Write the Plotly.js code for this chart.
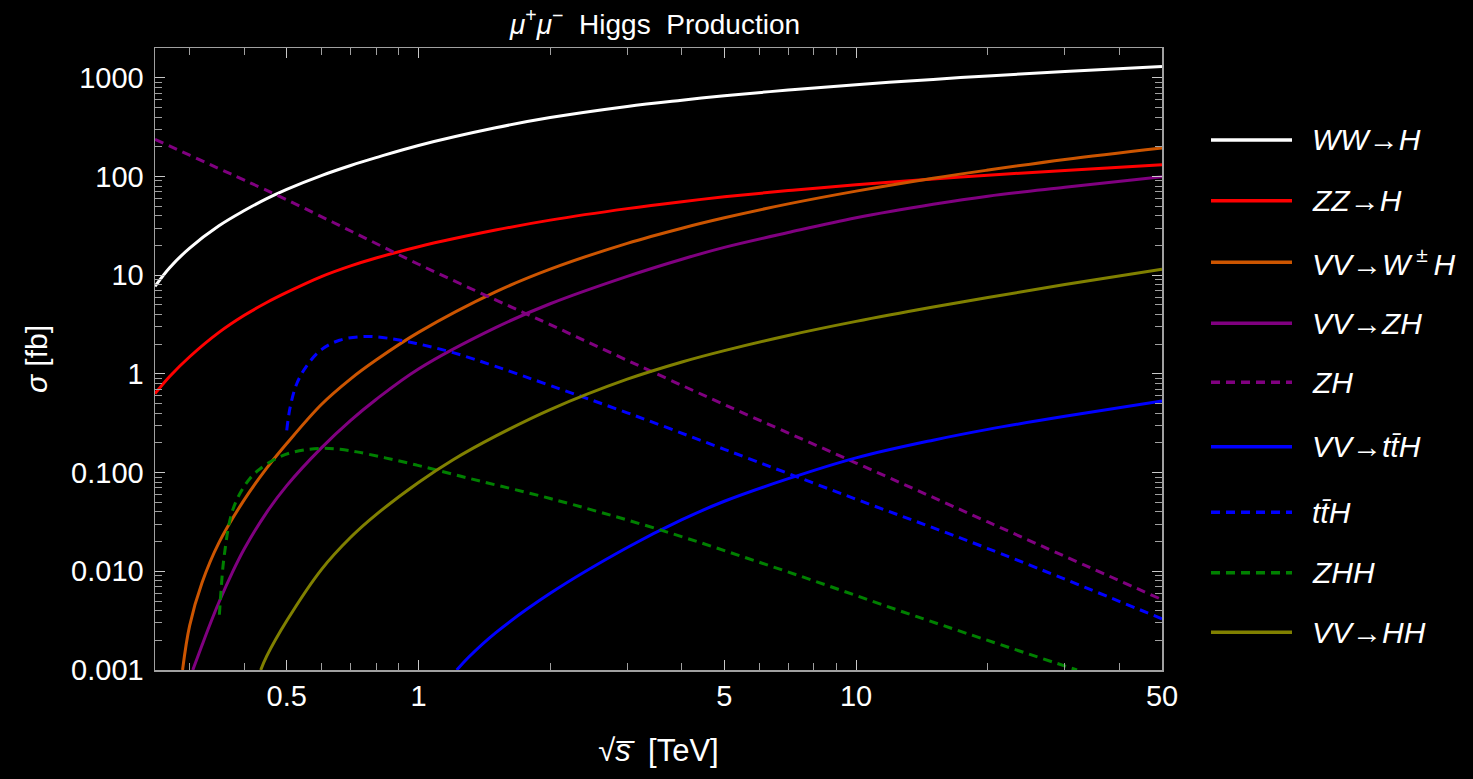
<!DOCTYPE html>
<html>
<head>
<meta charset="utf-8">
<script src="https://cdn.plot.ly/plotly-3.0.1.min.js"></script>
<style>
  html, body { margin: 0; padding: 0; background: #000; }
  #chart { width: 1473px; height: 779px; }
</style>
</head>
<body>
<div id="chart"></div>
<script>
// ---- data (sqrt(s) in TeV, sigma in fb) ----
const x_WWH = [0.25, 0.27, 0.3, 0.35, 0.4, 0.45, 0.5, 0.6, 0.7, 0.8, 1, 1.5, 2, 3, 4, 5, 7, 10, 15, 20, 30, 50];
const y_WWH = [7.71, 11.9, 18.8, 31.6, 45.1, 59.6, 74, 102, 129, 155, 206, 311, 395, 512, 592, 656, 750, 849, 962, 1042, 1153, 1300];

const x_ZZH = [0.25, 0.27, 0.3, 0.35, 0.4, 0.45, 0.5, 0.6, 0.7, 0.8, 1, 1.5, 2, 3, 4, 5, 7, 10, 15, 20, 30, 50];
const y_ZZH = [0.63, 0.94, 1.49, 2.63, 3.92, 5.28, 6.68, 9.66, 12.4, 14.9, 19.4, 28.6, 36.1, 47.2, 55.5, 62.1, 71.9, 82.4, 94.4, 103, 115, 131];

const x_VVWH = [0.289, 0.3, 0.32, 0.35, 0.4, 0.45, 0.5, 0.6, 0.7, 0.8, 1, 1.5, 2, 3, 4, 5, 7, 10, 15, 20, 30, 50];
const y_VVWH = [0.001, 0.00282, 0.0076, 0.0195, 0.0532, 0.111, 0.197, 0.49, 0.891, 1.38, 2.63, 6.76, 11.5, 21.0, 29.9, 38.1, 52.7, 71.0, 95.9, 115.9, 148.6, 194.5];

const x_VVZH = [0.305, 0.32, 0.335, 0.35, 0.375, 0.4, 0.45, 0.5, 0.6, 0.7, 0.8, 1, 1.5, 2, 3, 4, 5, 7, 10, 15, 20, 30, 50];
const y_VVZH = [0.001, 0.00177, 0.00301, 0.00486, 0.0096, 0.0169, 0.0396, 0.0738, 0.178, 0.338, 0.55, 1.12, 2.94, 5.13, 9.72, 14.5, 19.1, 27, 38.1, 52.2, 63.1, 77.5, 99];

const x_ZH = [0.25, 0.3, 0.35, 0.4, 0.5, 0.7, 1, 1.5, 2, 3, 5, 10, 20, 50];
const y_ZH = [238, 164, 120, 91.8, 58, 28, 12.9, 5.62, 3.15, 1.37, 0.488, 0.125, 0.0316, 0.00516];

const x_VVttH = [1.223, 1.3, 1.5, 2, 3, 4, 5, 7, 10, 15, 20, 30, 50];
const y_VVttH = [0.001, 0.00134, 0.00238, 0.00598, 0.0174, 0.0333, 0.0512, 0.0867, 0.141, 0.213, 0.274, 0.372, 0.53];

const x_ttH = [0.5, 0.509, 0.527, 0.555, 0.6, 0.66, 0.75, 0.85, 1, 1.2, 1.5, 2, 3, 5, 10, 20, 50];
const y_ttH = [0.268, 0.457, 0.794, 1.20, 1.76, 2.19, 2.39, 2.30, 2.01, 1.64, 1.19, 0.762, 0.403, 0.172, 0.0537, 0.017, 0.0033];

const x_ZHH = [0.3508, 0.3538, 0.3575, 0.3622, 0.368, 0.375, 0.384, 0.397, 0.412, 0.43, 0.45, 0.483, 0.509, 0.551, 0.606, 0.662, 0.723, 0.839, 0.991, 1.181, 1.407, 2.0, 3.505, 6.83, 13.77, 31.97];
const y_ZHH = [0.00363, 0.0063, 0.0112, 0.0178, 0.0282, 0.0398, 0.0525, 0.0692, 0.0871, 0.105, 0.122, 0.145, 0.158, 0.170, 0.176, 0.172, 0.162, 0.141, 0.119, 0.0977, 0.0804, 0.0546, 0.0269, 0.0102, 0.00347, 0.001];

const x_VVHH = [0.436, 0.45, 0.5, 0.6, 0.7, 0.8, 1, 1.2, 1.5, 2, 3, 4, 5, 7, 10, 15, 20, 30, 50];
const y_VVHH = [0.001, 0.00138, 0.00315, 0.0104, 0.0221, 0.0375, 0.0794, 0.135, 0.234, 0.435, 0.883, 1.32, 1.72, 2.45, 3.40, 4.75, 5.93, 8.02, 11.5];

const seriesNames = ["<i>WW→H</i>", "<i>ZZ→H</i>", "<i>VV→W</i><sup> ± </sup><i>H</i>", "<i>VV→ZH</i>",
                     "<i>ZH</i>", "<i>VV→tt̄H</i>", "<i>tt̄H</i>", "<i>ZHH</i>", "<i>VV→HH</i>"];

const yTickVals = [0.001, 0.01, 0.1, 1, 10, 100, 1000];
const yTickText = ["0.001", "0.010", "0.100", "1", "10", "100", "1000"];
const xTickVals = [0.5, 1, 5, 10, 50];
const xTickText = ["0.5", "1", "5", "10", "50"];
const xMinorVals = [0.3, 0.4, 0.6, 0.7, 0.8, 0.9, 2, 3, 4, 6, 7, 8, 9, 20, 30, 40];
const yMinorVals = [];
[0.001, 0.01, 0.1, 1, 10, 100, 1000].forEach(d => { for (let k = 2; k <= 9; k++) yMinorVals.push(+(d * k).toPrecision(3)); });

// ---- styles ----
const styles = [
  {color: "#ffffff", dash: "solid"},
  {color: "#ff0000", dash: "solid"},
  {color: "#cc5500", dash: "solid"},
  {color: "#800080", dash: "solid"},
  {color: "#800080", dash: "9px,6px"},
  {color: "#0000ff", dash: "solid"},
  {color: "#0000ff", dash: "9px,6px"},
  {color: "#008000", dash: "9px,6px"},
  {color: "#808000", dash: "solid"}
];
const xs = [x_WWH, x_ZZH, x_VVWH, x_VVZH, x_ZH, x_VVttH, x_ttH, x_ZHH, x_VVHH];
const ys = [y_WWH, y_ZZH, y_VVWH, y_VVZH, y_ZH, y_VVttH, y_ttH, y_ZHH, y_VVHH];

const traces = xs.map((x, i) => ({
  x: x, y: ys[i], type: "scatter", mode: "lines", name: seriesNames[i],
  line: {color: styles[i].color, dash: styles[i].dash, width: 3, shape: "spline", smoothing: 1},
  showlegend: false, hoverinfo: "x+y+name"
}));

// ---- layout geometry ----
const W = 1473, H = 779, L = 155, R = 1162, T = 48, B = 670;
const px2paperX = px => (px - L) / (R - L);
const py2paperY = py => (B - py) / (B - T);
const legendRowY = [140, 200.7, 262.3, 323.3, 382.3, 446.7, 512.3, 572.7, 632.3];
const FONT = "Liberation Sans, Arial, Helvetica, sans-serif";

const shapes = [], annotations = [];
legendRowY.forEach((py, i) => {
  shapes.push({type: "line", xref: "paper", yref: "paper",
    x0: px2paperX(1211), x1: px2paperX(1292), y0: py2paperY(py), y1: py2paperY(py),
    line: {color: styles[i].color, width: 3.5, dash: styles[i].dash}});
  annotations.push({xref: "paper", yref: "paper", x: px2paperX(1310), y: py2paperY(py),
    xanchor: "left", yanchor: "middle", text: seriesNames[i], showarrow: false,
    font: {family: FONT, size: 30, color: "#ffffff"}});
});

const axisCommon = {
  type: "log", showgrid: false, zeroline: false, showline: true, linecolor: "#a0a0a0", linewidth: 1.5,
  mirror: "allticks", ticks: "inside", ticklen: 10, tickwidth: 1.2, tickcolor: "#c8c8c8",
  tickmode: "array", tickfont: {family: FONT, size: 29, color: "#ffffff"},
};

const layout = {
  width: W, height: H,
  paper_bgcolor: "#000000", plot_bgcolor: "#000000",
  margin: {l: L, r: W - R, t: T, b: H - B, pad: 0},
  title: {text: "<i>μ</i><sup>+</sup><i>μ</i><sup>−</sup>  Higgs  Production", x: px2paperX(655), xref: "paper",
          y: 1 - 24 / H, yref: "container", yanchor: "middle",
          font: {family: FONT, size: 28, color: "#ffffff"}},
  xaxis: Object.assign({}, axisCommon, {
    range: [Math.log10(0.25), Math.log10(50)], tickvals: xTickVals, ticktext: xTickText,
    minor: {tickmode: "array", tickvals: xMinorVals, ticks: "inside", ticklen: 7, tickwidth: 1, tickcolor: "#a0a0a0"},
    title: {text: "√<i>s̅</i>  [TeV]", standoff: 28,
            font: {family: FONT, size: 31, color: "#ffffff"}}
  }),
  yaxis: Object.assign({}, axisCommon, {
    range: [-3, Math.log10(2000)], tickvals: yTickVals, ticktext: yTickText,
    minor: {tickmode: "array", tickvals: yMinorVals, ticks: "inside", ticklen: 7, tickwidth: 1, tickcolor: "#a0a0a0"},
    ticklabelstandoff: 4,
    title: {text: "<i>σ</i> [fb]", standoff: 14,
            font: {family: FONT, size: 30, color: "#ffffff"}}
  }),
  shapes: shapes,
  annotations: annotations
};

Plotly.newPlot("chart", traces, layout, {displayModeBar: false, staticPlot: true});
</script>
</body>
</html>
